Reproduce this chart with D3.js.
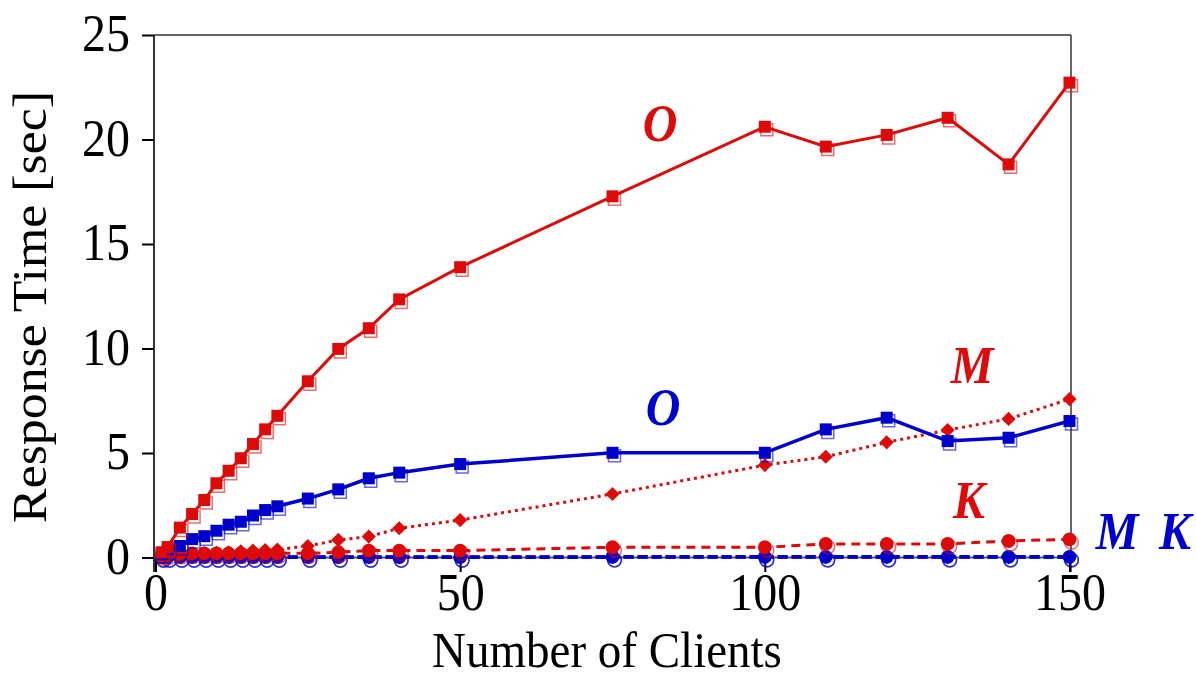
<!DOCTYPE html>
<html>
<head>
<meta charset="utf-8">
<script src="https://cdn.jsdelivr.net/npm/d3@7"></script>
<style>
  html, body { margin: 0; padding: 0; background: #fff; }
  svg { display: block; }
  text { font-family: "Liberation Serif", "Times New Roman", serif; }
</style>
</head>
<body>
<svg id="chart" width="1196" height="679"></svg>
<script>
// Number of clients (x) shared by every series
const clients = [1, 2, 4, 6, 8, 10, 12, 14, 16, 18, 20, 25, 30, 35, 40, 50, 75, 100, 110, 120, 130, 140, 150];

// Response times in seconds
const redO  = [0.25, 0.5, 1.43, 2.08, 2.75, 3.55, 4.15, 4.75, 5.43, 6.13, 6.78, 8.43, 9.98, 10.97, 12.35, 13.89, 17.28, 20.61, 19.66, 20.22, 21.04, 18.81, 22.72];
const blueO = [0.15, 0.35, 0.55, 0.88, 1.02, 1.28, 1.57, 1.71, 2.01, 2.27, 2.45, 2.82, 3.26, 3.79, 4.06, 4.47, 5.01, 5.01, 6.13, 6.69, 5.57, 5.73, 6.53];
const redM  = [0.05, 0.1, 0.15, 0.18, 0.2, 0.22, 0.25, 0.3, 0.33, 0.36, 0.38, 0.55, 0.84, 1.0, 1.4, 1.79, 3.04, 4.42, 4.82, 5.51, 6.1, 6.63, 7.58];
const redK  = [0.1, 0.15, 0.18, 0.2, 0.2, 0.2, 0.2, 0.2, 0.2, 0.2, 0.2, 0.2, 0.25, 0.33, 0.33, 0.33, 0.49, 0.49, 0.65, 0.65, 0.65, 0.79, 0.87];
const blueM = [0.01, 0.01, 0.01, 0.01, 0.01, 0.01, 0.01, 0.01, 0.01, 0.01, 0.01, 0.01, 0.01, 0.01, 0.01, 0.01, 0.02, 0.02, 0.02, 0.02, 0.02, 0.02, 0.02];
const blueK = [0.02, 0.02, 0.02, 0.02, 0.02, 0.02, 0.02, 0.02, 0.02, 0.02, 0.02, 0.02, 0.02, 0.02, 0.02, 0.02, 0.03, 0.03, 0.03, 0.03, 0.03, 0.03, 0.03];

const xTicks = [0, 50, 100, 150];
const yTicks = [0, 5, 10, 15, 20, 25];

const RED = "#dd0a0a";
const BLUE = "#0000cc";
const FONT = 48;
const STRETCH = 1.08;   // slight vertical stretch applied to all lettering
const SERIF = "Liberation Serif, Times New Roman, serif";

const svg = d3.select("#chart");

const x = d3.scaleLinear().domain([0, 150]).range([155.5, 1069.5]);
const y = d3.scaleLinear().domain([0, 25]).range([557.5, 35]);

const frameL = 154, frameR = 1071, frameT = 35, frameB = 572;

// frame
svg.append("line").attr("x1", frameL).attr("x2", frameR).attr("y1", frameT).attr("y2", frameT)
  .attr("stroke", "#333").attr("stroke-width", 1.5);
svg.append("line").attr("x1", frameR).attr("x2", frameR).attr("y1", frameT).attr("y2", frameB)
  .attr("stroke", "#333").attr("stroke-width", 1.5);
svg.append("line").attr("x1", frameL).attr("x2", frameL).attr("y1", frameT).attr("y2", frameB)
  .attr("stroke", "#333").attr("stroke-width", 2);
// baseline at y = 0
svg.append("line").attr("x1", frameL).attr("x2", frameR).attr("y1", y(0)).attr("y2", y(0))
  .attr("stroke", "#555").attr("stroke-width", 2);

// y axis
const yAxis = svg.append("g").attr("transform", `translate(${frameL},0)`)
  .call(d3.axisLeft(y).tickValues(yTicks).tickSize(12).tickPadding(12).tickFormat(d3.format("d")));
yAxis.select(".domain").remove();
yAxis.selectAll(".tick line").attr("stroke", "#000").attr("stroke-width", 2);
yAxis.selectAll(".tick text")
  .attr("font-size", FONT).attr("fill", "#000")
  .attr("font-family", SERIF)
  .attr("dy", "0.3em")
  .attr("transform", `scale(1,${STRETCH})`);

// x axis: ticks hang below the zero line
const xAxis = svg.append("g").attr("transform", `translate(0,${y(0)})`)
  .call(d3.axisBottom(x).tickValues(xTicks).tickSize(14.5).tickPadding(0).tickFormat(d3.format("d")));
xAxis.select(".domain").remove();
xAxis.selectAll(".tick line").attr("stroke", "#000").attr("stroke-width", 2);
xAxis.selectAll(".tick text")
  .attr("font-size", FONT).attr("fill", "#000")
  .attr("font-family", SERIF)
  .attr("transform", `scale(1,${STRETCH})`);

// axis titles
svg.append("text")
  .attr("transform", `translate(607,667) scale(1,${STRETCH})`)
  .attr("text-anchor", "middle").attr("font-size", 47).attr("fill", "#000")
  .text("Number of Clients");
svg.append("text")
  .attr("transform", `translate(46,307) rotate(-90) scale(${STRETCH},1)`)
  .attr("text-anchor", "middle").attr("font-size", FONT).attr("fill", "#000")
  .text("Response Time [sec]");

// series
const series = [
  { name: "blueM", values: blueM, color: BLUE, width: 3.5, dash: "10,4", marker: "diamond" },
  { name: "blueK", values: blueK, color: BLUE, width: 3.5, dash: "10,4", marker: "circle" },
  { name: "redK",  values: redK,  color: RED,  width: 3,   dash: "9,6",  marker: "circle" },
  { name: "redM",  values: redM,  color: RED,  width: 3,   dash: "3,4",  marker: "diamond" },
  { name: "blueO", values: blueO, color: BLUE, width: 3.5, dash: null,   marker: "square" },
  { name: "redO",  values: redO,  color: RED,  width: 3,   dash: null,   marker: "square" }
];

const line = d3.line().x(d => x(d[0])).y(d => y(d[1]));

const symbolFor = {
  square: d3.symbol().type(d3.symbolSquare).size(144),
  circle: d3.symbol().type(d3.symbolCircle).size(150),
  diamond: d3.symbol().type(d3.symbolSquare).size(100)   // drawn rotated 45°
};

series.forEach(s => {
  const pts = clients.map((c, i) => [c, s.values[i]]);
  const g = svg.append("g").attr("class", s.name);
  g.append("path").datum(pts)
    .attr("d", line)
    .attr("fill", "none")
    .attr("stroke", s.color)
    .attr("stroke-width", s.width)
    .attr("stroke-dasharray", s.dash);
  // outlined companion marker, slightly offset
  if (!(s.marker === "diamond" && s.color === RED)) {
    g.selectAll("path.hollow").data(pts).join("path")
      .attr("class", "hollow")
      .attr("d", symbolFor[s.marker === "diamond" ? "circle" : s.marker])
      .attr("transform", d => `translate(${x(d[0]) + 2},${y(d[1]) + 3})`)
      .attr("fill", "none")
      .attr("stroke", s.color)
      .attr("stroke-opacity", 0.6)
      .attr("stroke-width", 1.5);
  }
  // filled marker
  g.selectAll("path.solid").data(pts).join("path")
    .attr("class", "solid")
    .attr("d", symbolFor[s.marker])
    .attr("transform", d => `translate(${x(d[0])},${y(d[1])})` + (s.marker === "diamond" ? " rotate(45)" : ""))
    .attr("fill", s.color);
});

// series labels
const labels = [
  { text: "O", color: RED,  x: 660,  y: 141 },
  { text: "O", color: BLUE, x: 663,  y: 425 },
  { text: "M", color: RED,  x: 972,  y: 383 },
  { text: "K", color: RED,  x: 969,  y: 518 },
  { text: "M", color: BLUE, x: 1117, y: 549 },
  { text: "K", color: BLUE, x: 1175, y: 549 }
];
svg.selectAll("text.lbl").data(labels).join("text")
  .attr("class", "lbl")
  .attr("transform", d => `translate(${d.x},${d.y}) scale(1,${STRETCH})`)
  .attr("text-anchor", "middle")
  .attr("font-size", FONT)
  .attr("font-style", "italic")
  .attr("font-weight", "bold")
  .attr("fill", d => d.color)
  .text(d => d.text);
</script>
</body>
</html>
